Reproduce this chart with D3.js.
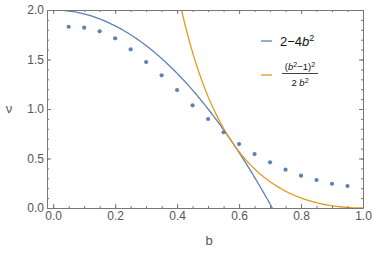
<html>
<script src="https://d3js.org/d3.v7.min.js"></script>
<style>
    body {margin: 0; background: white;}
    text {font-family: "Liberation Sans", Arial, sans-serif;}
    .tick text {fill: #555; font-size: 12px;}
    .domain, .tick line {stroke: #777;}
</style>
<body>
<svg width=374 height=255></svg>
<script>
// sampled points nu(b)
var bs = [0.05, 0.10, 0.15, 0.20, 0.25, 0.30, 0.35, 0.40, 0.45, 0.50,
          0.55, 0.60, 0.65, 0.70, 0.75, 0.80, 0.85, 0.90, 0.95];
var nus = [1.831, 1.821, 1.785, 1.714, 1.603, 1.475, 1.340, 1.192, 1.037, 0.899,
           0.765, 0.646, 0.545, 0.461, 0.387, 0.327, 0.283, 0.245, 0.222];
var xMajor = [0, 0.2, 0.4, 0.6, 0.8, 1.0];
var yMajor = [0, 0.5, 1.0, 1.5, 2.0];
var blue = "#5E81B5", orange = "#E19C24";

var svg = d3.select('svg');
var xs = d3.scaleLinear().domain([-0.02, 1]).range([47, 363]);
var ys = d3.scaleLinear().domain([0, 2]).range([208, 10]);

svg.append("defs").append("clipPath").attr("id", "clip")
    .append("rect").attr("x", 47).attr("y", 10).attr("width", 316).attr("height", 198);

// curves from the legend formulas
var f1 = function(b) {return 2 - 4*b*b;};
var f2 = function(b) {return Math.pow(b*b - 1, 2) / (2*b*b);};
var line = function(f) {
    return d3.line().x(function(b) {return xs(b);}).y(function(b) {return ys(f(b));});
};
var g = svg.append("g").attr("clip-path", "url(#clip)");
g.append("path").attr("d", line(f1)(d3.range(0, 0.72, 0.005)))
    .attr("fill", "none").attr("stroke", blue).attr("stroke-width", 1.3);
g.append("path").attr("d", line(f2)(d3.range(0.40, 1.0001, 0.004)))
    .attr("fill", "none").attr("stroke", orange).attr("stroke-width", 1.3);

svg.append("g").selectAll("circle").data(bs).enter().append("circle")
    .attr("cx", function(d) {return xs(d);})
    .attr("cy", function(d, i) {return ys(nus[i]);})
    .attr("r", 2.1).attr("fill", blue);

// frame: axes with inward ticks
var xMinor = d3.range(0, 1.0001, 0.05);
var yMinor = d3.range(0, 2.0001, 0.1);
function frame(axis, scale, major, minor, tr, labels) {
    svg.append("g").attr("transform", tr)
        .call(axis(scale).tickValues(minor).tickSize(-2).tickFormat(""))
        .call(function(s) {s.select(".domain").remove();});
    var a = svg.append("g").attr("transform", tr)
        .call(axis(scale).tickValues(major).tickSizeInner(-4).tickSizeOuter(0).tickPadding(3)
            .tickFormat(labels ? d3.format(".1f") : ""));
    return a;
}
frame(d3.axisBottom, xs, xMajor, xMinor, "translate(0,208)", true);
frame(d3.axisTop, xs, xMajor, xMinor, "translate(0,10)", false);
frame(d3.axisLeft, ys, yMajor, yMinor, "translate(47,0)", true);
frame(d3.axisRight, ys, yMajor, yMinor, "translate(363,0)", false);

svg.append("text").attr("x", 209).attr("y", 245).attr("text-anchor", "middle")
    .attr("fill", "#555").style("font-size", "13px").text("b");
svg.append("text").attr("x", 9).attr("y", 113).attr("text-anchor", "middle")
    .attr("fill", "#555").style("font-size", "13px").text("ν");

// legend
var lg = svg.append("g");
lg.append("line").attr("x1", 261).attr("x2", 272).attr("y1", 41).attr("y2", 41)
    .attr("stroke", blue).attr("stroke-width", 1.3);
var t1 = lg.append("text").attr("x", 280).attr("y", 46).style("font-size", "13px").attr("fill", "#111");
t1.append("tspan").text("2\u22124");
t1.append("tspan").style("font-style", "italic").text("b");
t1.append("tspan").attr("dy", -5).style("font-size", "9px").text("2");

lg.append("line").attr("x1", 261).attr("x2", 272).attr("y1", 75).attr("y2", 75)
    .attr("stroke", orange).attr("stroke-width", 1.3);
var t2 = lg.append("text").attr("x", 300).attr("y", 70).attr("text-anchor", "middle")
    .style("font-size", "9.5px").attr("fill", "#111");
t2.append("tspan").text("(");
t2.append("tspan").style("font-style", "italic").text("b");
t2.append("tspan").attr("dy", -3.5).style("font-size", "7px").text("2");
t2.append("tspan").attr("dy", 3.5).text("\u22121)");
t2.append("tspan").attr("dy", -3.5).style("font-size", "7px").text("2");
lg.append("line").attr("x1", 282).attr("x2", 318).attr("y1", 73.5).attr("y2", 73.5)
    .attr("stroke", "#111").attr("stroke-width", 0.8);
var t3 = lg.append("text").attr("x", 300).attr("y", 86).attr("text-anchor", "middle")
    .style("font-size", "9.5px").attr("fill", "#111");
t3.append("tspan").text("2 ");
t3.append("tspan").style("font-style", "italic").text("b");
t3.append("tspan").attr("dy", -3.5).style("font-size", "7px").text("2");
</script>
</body>
</html>
